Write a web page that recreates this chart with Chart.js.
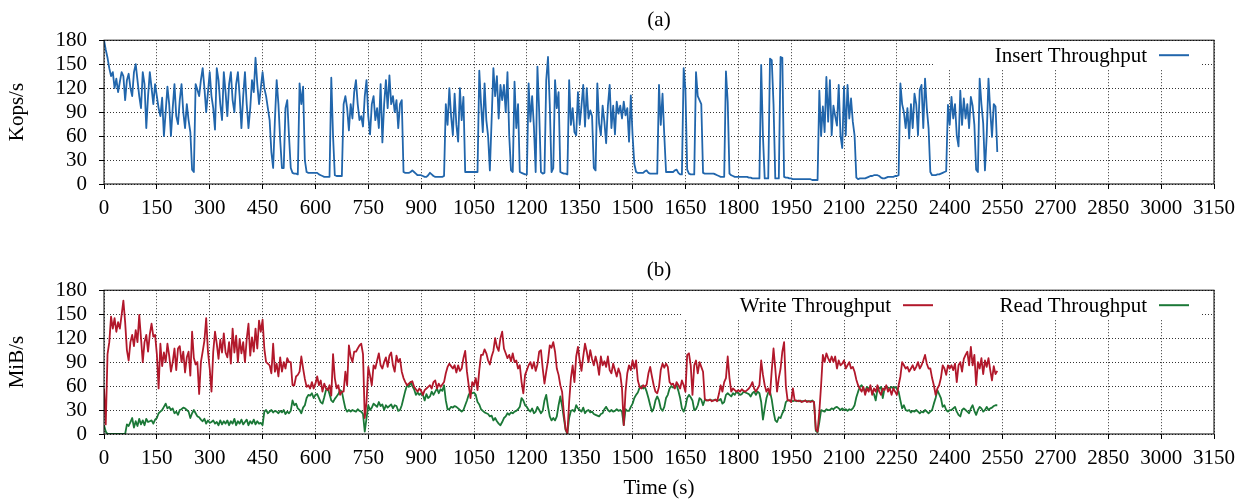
<!DOCTYPE html>
<html>
<head>
<meta charset="utf-8">
<script src="https://cdn.jsdelivr.net/npm/chart.js@4.4.1/dist/chart.umd.min.js"></script>
<style>
    html, body { margin: 0; padding: 0; background: #fff; }
    #wrap { position: relative; width: 1247px; height: 501px; }
    .panel { position: absolute; left: 0; width: 1247px; }
    #panel_a { top: 0; height: 250px; }
    #panel_b { top: 250px; height: 251px; }
</style>
</head>
<body>
<div id="wrap">
    <div class="panel" id="panel_a"><canvas id="insert_chart"></canvas></div>
    <div class="panel" id="panel_b"><canvas id="io_chart"></canvas></div>
</div>
<script>
// one sample every 5 seconds, starting at t = 0
const SAMPLE_STEP = 5

const timeTicks = [0, 150, 300, 450, 600, 750, 900, 1050, 1200, 1350, 1500, 1650, 1800, 1950, 2100, 2250, 2400, 2550, 2700, 2850, 3000, 3150]
const rateTicks = [0, 30, 60, 90, 120, 150, 180]

// (a) Insert Throughput, Kops/s
const insertKops = [
    180,168,158,145,135,140,120,132,115,128,140,135,105,130,138,120,110,140,150,130,
    110,95,140,125,70,110,140,120,100,125,110,95,85,108,60,90,122,100,60,95,
    125,85,75,105,125,90,70,100,80,65,18,15,125,118,110,130,145,120,90,115,
    140,110,95,68,145,130,100,80,140,115,85,125,140,105,90,125,140,110,70,110,
    140,100,70,95,130,115,158,125,100,120,140,120,110,95,80,40,20,80,130,100,
    55,20,20,95,105,60,20,14,13,13,12,126,100,122,30,15,14,14,14,14,
    14,14,12,11,10,9,9,9,9,133,60,11,10,10,10,10,100,110,95,67,
    100,82,115,130,100,80,85,72,110,130,85,62,100,110,80,95,70,125,52,100,
    130,95,136,100,110,90,105,70,100,105,15,14,14,14,15,17,15,13,11,11,
    11,10,9,9,11,14,12,10,9,9,9,9,9,10,100,74,120,85,61,113,
    74,53,120,80,109,15,15,15,15,15,15,15,15,142,100,65,126,80,60,17,
    80,145,110,135,82,124,105,124,90,140,60,17,15,128,70,100,15,14,13,12,
    12,126,78,110,72,15,147,90,15,13,14,130,159,100,15,20,130,95,115,15,
    14,13,13,12,130,74,95,65,61,115,74,98,124,72,120,82,92,85,20,17,
    126,76,61,98,78,51,98,124,70,98,62,103,88,98,82,103,86,95,53,111,
    61,25,15,14,14,14,14,16,17,14,13,13,13,13,13,124,74,113,61,15,
    15,15,15,15,17,18,14,12,12,145,118,18,13,12,12,12,140,110,105,100,
    14,13,13,13,13,13,13,12,11,10,9,9,9,141,103,13,11,10,9,9,
    9,9,9,9,9,9,8,8,7,7,7,7,7,149,60,7,7,7,157,155,
    100,7,7,7,159,158,9,8,8,7,7,6,6,6,6,6,6,6,6,6,
    6,6,5,5,5,5,117,60,97,65,134,78,130,61,98,85,73,124,61,45,
    122,61,124,82,107,78,61,8,6,7,7,7,7,8,9,10,10,11,11,11,
    10,8,7,7,8,9,9,9,9,10,10,11,126,100,90,70,95,57,100,70,
    113,100,61,118,124,70,132,95,70,15,11,11,11,12,12,13,14,15,16,99,
    74,109,82,100,61,47,117,74,107,82,100,70,109,98,74,18,15,132,100,76,
    17,60,132,92,59,100,97,40
]

// (b) Write Throughput, MiB/s
const writeMiB = [
    57,12,100,115,147,132,145,128,140,132,149,167,140,105,92,115,124,110,130,115,
    149,120,90,115,124,103,125,138,122,124,100,57,113,85,102,90,113,98,78,90,
    107,80,107,110,90,103,77,96,103,73,128,95,87,90,50,90,103,117,145,103,
    82,53,103,128,113,94,118,102,126,102,96,115,88,132,102,123,90,119,101,115,
    90,119,138,98,121,103,132,107,142,128,143,107,90,88,86,76,113,78,88,72,
    96,78,90,82,95,90,90,61,61,72,74,78,97,82,69,59,61,57,65,57,
    63,72,61,67,53,63,57,55,61,48,100,70,57,61,49,53,53,78,61,111,
    97,90,103,103,107,111,113,100,20,40,84,73,61,86,82,92,101,86,82,90,
    96,84,98,102,86,78,98,90,94,78,70,65,61,63,65,66,59,56,53,57,
    54,49,55,57,59,61,57,65,67,57,63,59,62,65,76,84,88,85,82,86,
    77,86,79,82,95,104,78,61,45,65,61,70,55,80,99,99,106,101,92,87,
    97,104,120,109,104,120,128,107,101,95,99,91,101,90,92,82,86,65,51,74,
    80,86,90,82,90,79,87,103,105,82,63,78,92,111,108,115,103,82,74,61,
    53,26,6,1,40,70,86,65,97,109,92,79,97,113,103,90,105,94,86,97,
    88,74,97,86,91,84,97,80,76,88,80,72,82,75,57,11,53,76,86,80,
    92,82,92,67,59,57,61,59,62,76,84,72,61,53,51,59,80,88,83,88,
    84,65,62,63,57,65,61,57,67,61,53,99,101,86,49,86,92,76,90,84,
    78,44,42,42,43,41,42,43,41,50,61,53,65,70,97,70,53,57,55,53,
    55,53,56,54,53,55,57,60,65,57,53,57,61,92,74,61,53,57,49,80,
    107,82,53,70,82,103,115,60,42,42,40,57,42,42,41,42,40,41,42,40,
    41,40,41,40,6,3,28,61,99,90,101,95,90,97,90,97,82,92,86,88,
    92,82,86,90,82,84,78,68,61,57,53,59,49,57,53,61,49,57,53,61,
    53,49,57,55,61,53,57,49,57,53,49,61,72,90,86,82,84,78,82,86,
    80,84,90,82,86,92,99,88,82,82,70,61,49,57,61,70,86,82,74,86,
    82,86,80,88,65,86,90,78,94,99,103,86,109,86,99,61,90,82,95,75,
    92,84,95,80,67,85,75,79
]

// (b) Read Throughput, MiB/s
const readMiB = [
    11,3,0,0,0,0,0,0,0,0,0,0,0,12,10,15,20,8,16,10,
    19,12,17,11,19,15,16,17,13,18,20,26,28,30,34,38,32,34,30,32,
    26,28,24,30,31,33,32,30,28,20,26,30,26,22,21,18,16,19,13,17,
    14,15,17,13,15,11,17,12,16,13,17,11,16,13,19,11,16,13,18,12,
    15,18,11,16,13,18,12,16,13,14,11,28,30,26,28,30,27,29,28,26,
    29,27,30,25,28,26,29,42,36,38,32,30,26,33,36,45,49,48,51,45,
    49,50,45,40,38,46,55,57,50,42,40,44,47,50,55,53,42,32,28,30,
    28,30,29,28,31,29,28,25,3,20,36,30,33,38,36,34,40,35,37,30,
    36,33,35,37,32,36,35,29,30,36,45,54,61,59,65,60,56,49,52,49,
    51,49,42,50,45,47,53,49,53,57,51,56,54,61,42,31,31,34,33,35,
    34,32,30,28,30,36,42,49,53,51,52,49,40,37,31,29,27,26,25,22,
    23,17,20,16,13,11,15,20,22,26,24,27,26,28,29,31,34,45,42,36,
    34,30,28,32,26,28,34,30,26,29,42,49,34,22,17,20,17,22,36,47,
    35,20,5,0,20,29,30,28,36,32,30,28,33,26,29,30,27,28,25,24,
    23,22,25,26,31,34,30,28,30,28,29,31,29,30,28,11,31,29,29,34,
    38,45,49,52,58,60,57,59,53,45,36,28,32,42,47,42,32,29,34,45,
    49,57,60,58,59,61,54,45,32,28,34,45,49,46,42,30,31,36,45,43,
    36,43,42,42,43,42,42,43,42,42,44,38,40,49,51,49,47,51,49,53,
    51,49,50,53,52,51,50,47,51,53,49,53,51,40,18,32,45,52,53,43,
    28,17,15,21,20,26,30,40,42,42,42,41,42,41,42,41,41,41,42,41,
    41,41,42,40,4,2,15,30,29,28,31,30,30,32,31,33,34,32,30,32,
    30,31,29,31,30,32,36,46,53,59,61,57,53,59,57,57,53,50,42,56,
    57,59,45,57,59,58,57,59,57,59,57,53,42,32,36,30,29,30,27,29,
    28,30,28,26,28,27,30,28,26,28,30,38,45,55,50,45,34,36,30,28,
    30,30,32,34,28,24,22,30,32,30,28,26,32,36,29,24,30,34,32,28,
    30,34,30,32,33,35,36,36
]

document.addEventListener('DOMContentLoaded', () => {

    const serif = '"Liberation Serif", "Times New Roman", serif'
    const FONT_SIZE = 21
    Chart.defaults.font.family = serif
    Chart.defaults.font.size = FONT_SIZE
    Chart.defaults.color = '#000'

    const toPoints = values => values.map((v, i) => ({ x: i * SAMPLE_STEP, y: v }))

    // gnuplot-like key: opaque white box in the top right corner of the plot
    const boxLegend = {
        id: 'boxLegend',
        afterDatasetsDraw(chart, args, opts) {
            const { ctx, chartArea } = chart
            const top = chartArea.top
            ctx.save()
            ctx.fillStyle = '#fff'
            ctx.fillRect(opts.boxLeft, top + 1, chartArea.right - 12 - opts.boxLeft, 28)
            ctx.font = FONT_SIZE + 'px ' + serif
            ctx.textBaseline = 'middle'
            ctx.textAlign = 'right'
            opts.entries.forEach(entry => {
                const ds = chart.data.datasets[entry.dataset]
                ctx.fillStyle = '#000'
                ctx.fillText(ds.label, entry.textRight, top + 16)
                ctx.strokeStyle = ds.borderColor
                ctx.lineWidth = 2
                ctx.beginPath()
                ctx.moveTo(entry.textRight + 12, top + 15)
                ctx.lineTo(entry.textRight + 42, top + 15)
                ctx.stroke()
            })
            ctx.restore()
        }
    }

    const plotFrame = {
        id: 'plotFrame',
        afterDraw(chart) {
            const { ctx, chartArea } = chart
            ctx.save()
            ctx.strokeStyle = '#000'
            ctx.lineWidth = 1
            ctx.strokeRect(chartArea.left, chartArea.top, chartArea.right - chartArea.left, chartArea.bottom - chartArea.top)
            ctx.restore()
        }
    }

    const plainNumber = value => String(value)

    const makeScales = (yTitle, xTitle, xHeight) => ({
        x: {
            type: 'linear',
            min: 0,
            max: 3150,
            afterBuildTicks: scale => { scale.ticks = timeTicks.map(v => ({ value: v })) },
            afterFit: scale => { scale.height = xHeight },
            ticks: { padding: 7, maxRotation: 0, autoSkip: false, callback: plainNumber },
            grid: { color: '#333', lineWidth: 1, tickColor: '#000', tickLength: 5, tickWidth: 1 },
            border: { display: false, dash: [1, 2] },
            title: { display: !!xTitle, text: xTitle || '', padding: { top: 0, bottom: 0 } }
        },
        y: {
            min: 0,
            max: 180,
            afterBuildTicks: scale => { scale.ticks = rateTicks.map(v => ({ value: v })) },
            afterFit: scale => { scale.width = 104 },
            ticks: { padding: 12, autoSkip: false, callback: plainNumber },
            grid: { color: '#333', lineWidth: 1, tickColor: '#000', tickLength: 5, tickWidth: 1 },
            border: { display: false, dash: [1, 2] },
            title: { display: true, text: yTitle, padding: { top: 5, bottom: 0 } }
        }
    })

    const makeOptions = (title, yTitle, xTitle, xHeight, legend) => ({
        responsive: true,
        maintainAspectRatio: false,
        animation: false,
        layout: { padding: { left: 0, right: 33, top: 0, bottom: 0 } },
        elements: {
            point: { radius: 0 },
            line: { borderWidth: 1.8, tension: 0, borderJoinStyle: 'round' }
        },
        plugins: {
            legend: { display: false },
            tooltip: { enabled: false },
            title: {
                display: true,
                text: title,
                fullSize: false,
                font: { size: FONT_SIZE, weight: 'normal' },
                padding: { top: 8, bottom: 7 }
            },
            boxLegend: legend
        },
        scales: makeScales(yTitle, xTitle, xHeight)
    })

    const insertCanvas = document.querySelector('#insert_chart')
    if (!insertCanvas) {
        console.error('Insert throughput canvas not found.')
    }
    new Chart(insertCanvas.getContext('2d'), {
        type: 'line',
        data: {
            datasets: [{
                label: 'Insert Throughput',
                data: toPoints(insertKops),
                borderColor: '#2166ac',
                fill: false
            }]
        },
        options: makeOptions('(a)', 'Kops/s', null, 66, {
            boxLeft: 933,
            entries: [{ dataset: 0, textRight: 1147 }]
        }),
        plugins: [boxLegend, plotFrame]
    })

    const ioCanvas = document.querySelector('#io_chart')
    if (!ioCanvas) {
        console.error('Write/read throughput canvas not found.')
    }
    new Chart(ioCanvas.getContext('2d'), {
        type: 'line',
        data: {
            datasets: [{
                label: 'Write Throughput',
                data: toPoints(writeMiB),
                borderColor: '#b2182b',
                fill: false
            }, {
                label: 'Read Throughput',
                data: toPoints(readMiB),
                borderColor: '#1b7837',
                fill: false
            }]
        },
        options: makeOptions('(b)', 'MiB/s', 'Time (s)', 67, {
            boxLeft: 683,
            entries: [{ dataset: 0, textRight: 891 }, { dataset: 1, textRight: 1147 }]
        }),
        plugins: [boxLegend, plotFrame]
    })

})
</script>
</body>
</html>
